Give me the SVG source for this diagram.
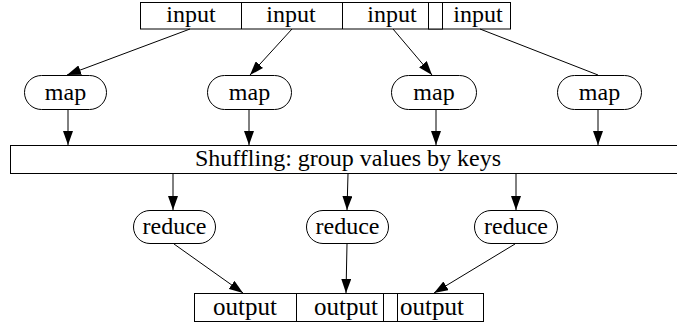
<svg xmlns="http://www.w3.org/2000/svg" width="677" height="326" viewBox="0 0 677 326">
<defs>
<marker id="ah" viewBox="0 0 14 10" refX="14" refY="5" markerWidth="14" markerHeight="10" markerUnits="userSpaceOnUse" orient="auto">
<path d="M0,0 L14,5 L0,10 Z" fill="#000"/>
</marker>
</defs>
<style>
.box{fill:#fff;stroke:#000;stroke-width:1}
text{font-family:'Liberation Serif','DejaVu Serif',serif;font-size:24px;fill:#000;text-anchor:middle}
.o{font-size:25px}
.c{stroke:#000;stroke-width:1;fill:none}
.a{marker-end:url(#ah)}
</style>
<rect width="677" height="326" fill="#fff"/>
<g id="inputs">
<rect class="box" x="140.5" y="2.5" width="370" height="26.5"/>
<line class="c" x1="241.5" y1="2.5" x2="241.5" y2="29"/>
<line class="c" x1="342.5" y1="2.5" x2="342.5" y2="29"/>
<rect class="box" x="428.5" y="2.5" width="14" height="26.5"/>
<text x="191" y="22">input</text>
<text x="291" y="22">input</text>
<text x="392" y="22">input</text>
<text x="478" y="22">input</text>
</g>
<g id="map1"><rect class="box" x="24.5" y="75.5" width="82" height="34" rx="17"/><text x="65.5" y="100">map</text></g>
<g id="map2"><rect class="box" x="207.5" y="75.5" width="84" height="34" rx="17"/><text x="249.5" y="100">map</text></g>
<g id="map3"><rect class="box" x="391.5" y="75.5" width="85" height="34" rx="17"/><text x="434" y="100">map</text></g>
<g id="map4"><rect class="box" x="557.5" y="75.5" width="84" height="34" rx="17"/><text x="599.5" y="100">map</text></g>
<g id="shuffle"><rect class="box" x="10.5" y="145.5" width="680" height="28"/><text x="348" y="166">Shuffling: group values by keys</text></g>
<g id="reduce1"><rect class="box" x="133.5" y="210.5" width="82" height="33" rx="16.5"/><text x="174.5" y="234">reduce</text></g>
<g id="reduce2"><rect class="box" x="306.5" y="210.5" width="82" height="33" rx="16.5"/><text x="347.5" y="234">reduce</text></g>
<g id="reduce3"><rect class="box" x="474.5" y="210.5" width="83" height="33" rx="16.5"/><text x="516" y="234">reduce</text></g>
<g id="outputs">
<rect class="box" x="194.5" y="293.5" width="289" height="28"/>
<line class="c" x1="296.5" y1="293.5" x2="296.5" y2="321.5"/>
<rect class="box" x="383.5" y="293.5" width="14" height="28"/>
<text class="o" x="245" y="315">output</text>
<text class="o" x="346" y="315">output</text>
<text class="o" x="432" y="315">output</text>
</g>
<g id="connectors">
<line class="c a" x1="190" y1="29" x2="67" y2="75"/>
<line class="c a" x1="292" y1="29" x2="250" y2="75"/>
<line class="c a" x1="393" y1="29" x2="432" y2="75"/>
<line class="c" x1="480" y1="29" x2="598" y2="75"/>
<line class="c a" x1="68" y1="110" x2="68" y2="145"/>
<line class="c a" x1="249" y1="110" x2="249" y2="145"/>
<line class="c a" x1="436" y1="110" x2="436" y2="145"/>
<line class="c a" x1="598" y1="110" x2="598" y2="145"/>
<line class="c a" x1="173" y1="174" x2="173" y2="210"/>
<line class="c a" x1="348" y1="174" x2="347" y2="210"/>
<line class="c a" x1="516" y1="174" x2="516" y2="210"/>
<line class="c a" x1="174" y1="244" x2="243" y2="293"/>
<line class="c a" x1="347" y1="244" x2="346" y2="293"/>
<line class="c a" x1="515" y1="244" x2="434" y2="293"/>
</g>
</svg>
